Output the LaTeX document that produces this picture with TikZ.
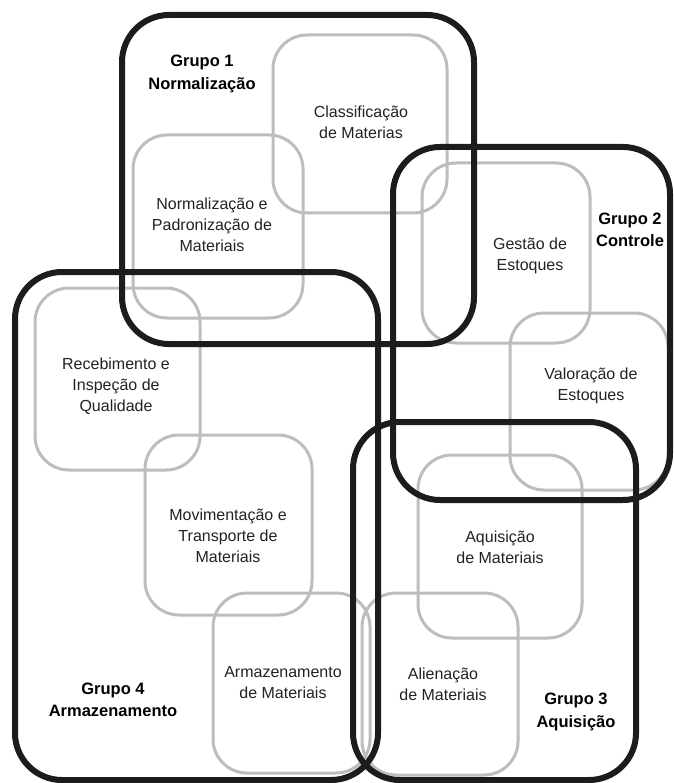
\documentclass[tikz,border=0pt]{standalone}
\usepackage{fontspec}
\setmainfont{Liberation Sans}
\definecolor{boxgray}{HTML}{BDBDBD}
\definecolor{boxblack}{HTML}{1C1C1C}
\definecolor{txt}{HTML}{222222}
\tikzset{
  graybox/.style={draw=boxgray, line width=3pt, rounded corners=34pt, inner sep=0pt, rectangle},
  groupbox/.style={draw=boxblack, line width=6pt, rounded corners=47pt, inner sep=0pt, rectangle},
  itemtext/.style={align=center, text=txt, font=\fontsize{16}{21}\selectfont, inner sep=0pt},
  grouptext/.style={align=center, text=black, font=\fontsize{16.5}{22.5}\selectfont\bfseries, inner sep=0pt}
}
\begin{document}
\begin{tikzpicture}[x=1pt,y=-1pt]
\useasboundingbox (0,0) rectangle (673,783);
% gray boxes
\node[graybox, minimum width=174pt, minimum height=178pt] (clas) at (360,124) {};
\node[graybox, minimum width=170pt, minimum height=183pt] (norm) at (218,226.5) {};
\node[graybox, minimum width=168pt, minimum height=180pt] (gest) at (506,253) {};
\node[graybox, minimum width=158pt, minimum height=177pt] (valo) at (589,401.5) {};
\node[graybox, minimum width=165pt, minimum height=182pt] (rece) at (117.5,379) {};
\node[graybox, minimum width=167pt, minimum height=180pt] (movi) at (228.5,525) {};
\node[graybox, minimum width=157pt, minimum height=180pt] (arma) at (291.5,683) {};
\node[graybox, minimum width=164pt, minimum height=183pt] (aqui) at (500,546.5) {};
\node[graybox, minimum width=156pt, minimum height=182pt] (alie) at (440,684) {};
% group boxes
\node[groupbox, minimum width=352pt, minimum height=329pt] (g1) at (298,179.5) {};
\node[groupbox, minimum width=277pt, minimum height=353pt] (g2) at (531.5,323.5) {};
\node[groupbox, minimum width=283pt, minimum height=358pt] (g3) at (494.5,601) {};
\node[groupbox, minimum width=363pt, minimum height=508pt] (g4) at (196.5,526) {};
% texts
\node[grouptext] (t1) at (202,74) {Grupo 1\\Normalização};
\node[grouptext] (t2) at (630,230) {Grupo 2\\Controle};
\node[grouptext] (t3) at (576,712) {Grupo 3\\Aquisição};
\node[grouptext] (t4) at (113,700) {Grupo 4\\Armazenamento};
\node[itemtext] (tclas) at (361,122) {Classificação\\de Materias};
\node[itemtext] (tnorm) at (212,225) {Normalização e\\Padronização de\\Materiais};
\node[itemtext] (tgest) at (530,256) {Gestão de\\Estoques};
\node[itemtext] (tvalo) at (591,386) {Valoração de\\Estoques};
\node[itemtext] (trece) at (116,386) {Recebimento e\\Inspeção de\\Qualidade};
\node[itemtext] (tmovi) at (228,536) {Movimentação e\\Transporte de\\Materiais};
\node[itemtext] (tarma) at (283,683) {Armazenamento\\de Materiais};
\node[itemtext] (taqui) at (500,547) {Aquisição\\de Materiais};
\node[itemtext] (talie) at (443,684) {Alienação\\de Materiais};
\end{tikzpicture}
\end{document}
